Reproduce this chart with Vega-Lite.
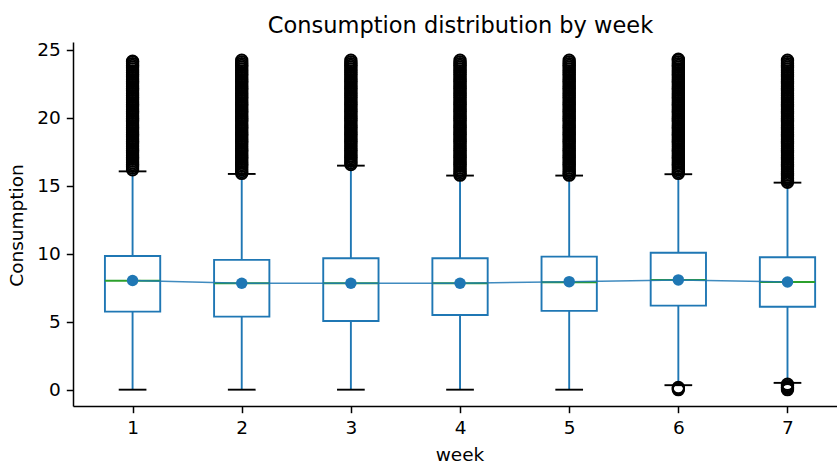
{
  "$schema": "https://vega.github.io/schema/vega-lite/v6.json",
  "width": 764,
  "height": 364,
  "autosize": {"type": "none"},
  "padding": {"left": 73, "top": 42, "right": 0, "bottom": 57},
  "background": "white",
  "title": {"text": "Consumption distribution by week", "font": "DejaVu Sans", "fontSize": 22.5, "fontWeight": "normal", "color": "black", "anchor": "middle", "frame": "group", "baseline": "alphabetic", "offset": 11, "dx": 5.5, "dy": 26},
  "datasets": {
    "box": [
      {"week": 1, "q1": 5.74, "med": 8.01, "q3": 9.83, "lo": 0, "hi": 16.05, "mean": 8.03},
      {"week": 2, "q1": 5.37, "med": 7.82, "q3": 9.54, "lo": 0, "hi": 15.86, "mean": 7.82},
      {"week": 3, "q1": 5.05, "med": 7.82, "q3": 9.66, "lo": 0, "hi": 16.47, "mean": 7.82},
      {"week": 4, "q1": 5.49, "med": 7.82, "q3": 9.66, "lo": 0, "hi": 15.74, "mean": 7.82},
      {"week": 5, "q1": 5.79, "med": 7.9, "q3": 9.78, "lo": 0, "hi": 15.74, "mean": 7.94},
      {"week": 6, "q1": 6.18, "med": 8.07, "q3": 10.07, "lo": 0.33, "hi": 15.84, "mean": 8.07},
      {"week": 7, "q1": 6.1, "med": 7.92, "q3": 9.74, "lo": 0.5, "hi": 15.22, "mean": 7.92}
    ],
    "out": [
      {"week":1,"v":16.16},{"week":1,"v":16.29},{"week":1,"v":16.42},{"week":1,"v":16.55},{"week":1,"v":16.68},{"week":1,"v":16.81},{"week":1,"v":16.94},{"week":1,"v":17.07},{"week":1,"v":17.2},{"week":1,"v":17.33},{"week":1,"v":17.46},{"week":1,"v":17.59},{"week":1,"v":17.72},{"week":1,"v":17.85},{"week":1,"v":17.98},{"week":1,"v":18.11},{"week":1,"v":18.24},{"week":1,"v":18.37},{"week":1,"v":18.5},{"week":1,"v":18.63},{"week":1,"v":18.76},{"week":1,"v":18.89},{"week":1,"v":19.02},{"week":1,"v":19.15},{"week":1,"v":19.28},{"week":1,"v":19.41},{"week":1,"v":19.54},{"week":1,"v":19.67},{"week":1,"v":19.8},{"week":1,"v":19.93},{"week":1,"v":20.06},{"week":1,"v":20.19},{"week":1,"v":20.32},{"week":1,"v":20.45},{"week":1,"v":20.58},{"week":1,"v":20.71},{"week":1,"v":20.84},{"week":1,"v":20.97},{"week":1,"v":21.1},{"week":1,"v":21.23},{"week":1,"v":21.36},{"week":1,"v":21.49},{"week":1,"v":21.62},{"week":1,"v":21.75},{"week":1,"v":21.88},{"week":1,"v":22.01},{"week":1,"v":22.14},{"week":1,"v":22.27},{"week":1,"v":22.4},{"week":1,"v":22.53},{"week":1,"v":22.66},{"week":1,"v":22.79},{"week":1,"v":22.92},{"week":1,"v":23.05},{"week":1,"v":23.18},{"week":1,"v":23.31},{"week":1,"v":23.44},{"week":1,"v":23.57},{"week":1,"v":23.7},{"week":1,"v":23.83},{"week":1,"v":23.96},{"week":1,"v":24.09},{"week":1,"v":24.15},
      {"week":2,"v":15.9},{"week":2,"v":16.03},{"week":2,"v":16.16},{"week":2,"v":16.29},{"week":2,"v":16.42},{"week":2,"v":16.55},{"week":2,"v":16.68},{"week":2,"v":16.81},{"week":2,"v":16.94},{"week":2,"v":17.07},{"week":2,"v":17.2},{"week":2,"v":17.33},{"week":2,"v":17.46},{"week":2,"v":17.59},{"week":2,"v":17.72},{"week":2,"v":17.85},{"week":2,"v":17.98},{"week":2,"v":18.11},{"week":2,"v":18.24},{"week":2,"v":18.37},{"week":2,"v":18.5},{"week":2,"v":18.63},{"week":2,"v":18.76},{"week":2,"v":18.89},{"week":2,"v":19.02},{"week":2,"v":19.15},{"week":2,"v":19.28},{"week":2,"v":19.41},{"week":2,"v":19.54},{"week":2,"v":19.67},{"week":2,"v":19.8},{"week":2,"v":19.93},{"week":2,"v":20.06},{"week":2,"v":20.19},{"week":2,"v":20.32},{"week":2,"v":20.45},{"week":2,"v":20.58},{"week":2,"v":20.71},{"week":2,"v":20.84},{"week":2,"v":20.97},{"week":2,"v":21.1},{"week":2,"v":21.23},{"week":2,"v":21.36},{"week":2,"v":21.49},{"week":2,"v":21.62},{"week":2,"v":21.75},{"week":2,"v":21.88},{"week":2,"v":22.01},{"week":2,"v":22.14},{"week":2,"v":22.27},{"week":2,"v":22.4},{"week":2,"v":22.53},{"week":2,"v":22.66},{"week":2,"v":22.79},{"week":2,"v":22.92},{"week":2,"v":23.05},{"week":2,"v":23.18},{"week":2,"v":23.31},{"week":2,"v":23.44},{"week":2,"v":23.57},{"week":2,"v":23.7},{"week":2,"v":23.83},{"week":2,"v":23.96},{"week":2,"v":24.09},{"week":2,"v":24.22},
      {"week":3,"v":16.55},{"week":3,"v":16.68},{"week":3,"v":16.81},{"week":3,"v":16.94},{"week":3,"v":17.07},{"week":3,"v":17.2},{"week":3,"v":17.33},{"week":3,"v":17.46},{"week":3,"v":17.59},{"week":3,"v":17.72},{"week":3,"v":17.85},{"week":3,"v":17.98},{"week":3,"v":18.11},{"week":3,"v":18.24},{"week":3,"v":18.37},{"week":3,"v":18.5},{"week":3,"v":18.63},{"week":3,"v":18.76},{"week":3,"v":18.89},{"week":3,"v":19.02},{"week":3,"v":19.15},{"week":3,"v":19.28},{"week":3,"v":19.41},{"week":3,"v":19.54},{"week":3,"v":19.67},{"week":3,"v":19.8},{"week":3,"v":19.93},{"week":3,"v":20.06},{"week":3,"v":20.19},{"week":3,"v":20.32},{"week":3,"v":20.45},{"week":3,"v":20.58},{"week":3,"v":20.71},{"week":3,"v":20.84},{"week":3,"v":20.97},{"week":3,"v":21.1},{"week":3,"v":21.23},{"week":3,"v":21.36},{"week":3,"v":21.49},{"week":3,"v":21.62},{"week":3,"v":21.75},{"week":3,"v":21.88},{"week":3,"v":22.01},{"week":3,"v":22.14},{"week":3,"v":22.27},{"week":3,"v":22.4},{"week":3,"v":22.53},{"week":3,"v":22.66},{"week":3,"v":22.79},{"week":3,"v":22.92},{"week":3,"v":23.05},{"week":3,"v":23.18},{"week":3,"v":23.31},{"week":3,"v":23.44},{"week":3,"v":23.57},{"week":3,"v":23.7},{"week":3,"v":23.83},{"week":3,"v":23.96},{"week":3,"v":24.09},{"week":3,"v":24.22},
      {"week":4,"v":15.77},{"week":4,"v":15.9},{"week":4,"v":16.03},{"week":4,"v":16.16},{"week":4,"v":16.29},{"week":4,"v":16.42},{"week":4,"v":16.55},{"week":4,"v":16.68},{"week":4,"v":16.81},{"week":4,"v":16.94},{"week":4,"v":17.07},{"week":4,"v":17.2},{"week":4,"v":17.33},{"week":4,"v":17.46},{"week":4,"v":17.59},{"week":4,"v":17.72},{"week":4,"v":17.85},{"week":4,"v":17.98},{"week":4,"v":18.11},{"week":4,"v":18.24},{"week":4,"v":18.37},{"week":4,"v":18.5},{"week":4,"v":18.63},{"week":4,"v":18.76},{"week":4,"v":18.89},{"week":4,"v":19.02},{"week":4,"v":19.15},{"week":4,"v":19.28},{"week":4,"v":19.41},{"week":4,"v":19.54},{"week":4,"v":19.67},{"week":4,"v":19.8},{"week":4,"v":19.93},{"week":4,"v":20.06},{"week":4,"v":20.19},{"week":4,"v":20.32},{"week":4,"v":20.45},{"week":4,"v":20.58},{"week":4,"v":20.71},{"week":4,"v":20.84},{"week":4,"v":20.97},{"week":4,"v":21.1},{"week":4,"v":21.23},{"week":4,"v":21.36},{"week":4,"v":21.49},{"week":4,"v":21.62},{"week":4,"v":21.75},{"week":4,"v":21.88},{"week":4,"v":22.01},{"week":4,"v":22.14},{"week":4,"v":22.27},{"week":4,"v":22.4},{"week":4,"v":22.53},{"week":4,"v":22.66},{"week":4,"v":22.79},{"week":4,"v":22.92},{"week":4,"v":23.05},{"week":4,"v":23.18},{"week":4,"v":23.31},{"week":4,"v":23.44},{"week":4,"v":23.57},{"week":4,"v":23.7},{"week":4,"v":23.83},{"week":4,"v":23.96},{"week":4,"v":24.09},{"week":4,"v":24.22},
      {"week":5,"v":15.77},{"week":5,"v":15.9},{"week":5,"v":16.03},{"week":5,"v":16.16},{"week":5,"v":16.29},{"week":5,"v":16.42},{"week":5,"v":16.55},{"week":5,"v":16.68},{"week":5,"v":16.81},{"week":5,"v":16.94},{"week":5,"v":17.07},{"week":5,"v":17.2},{"week":5,"v":17.33},{"week":5,"v":17.46},{"week":5,"v":17.59},{"week":5,"v":17.72},{"week":5,"v":17.85},{"week":5,"v":17.98},{"week":5,"v":18.11},{"week":5,"v":18.24},{"week":5,"v":18.37},{"week":5,"v":18.5},{"week":5,"v":18.63},{"week":5,"v":18.76},{"week":5,"v":18.89},{"week":5,"v":19.02},{"week":5,"v":19.15},{"week":5,"v":19.28},{"week":5,"v":19.41},{"week":5,"v":19.54},{"week":5,"v":19.67},{"week":5,"v":19.8},{"week":5,"v":19.93},{"week":5,"v":20.06},{"week":5,"v":20.19},{"week":5,"v":20.32},{"week":5,"v":20.45},{"week":5,"v":20.58},{"week":5,"v":20.71},{"week":5,"v":20.84},{"week":5,"v":20.97},{"week":5,"v":21.1},{"week":5,"v":21.23},{"week":5,"v":21.36},{"week":5,"v":21.49},{"week":5,"v":21.62},{"week":5,"v":21.75},{"week":5,"v":21.88},{"week":5,"v":22.01},{"week":5,"v":22.14},{"week":5,"v":22.27},{"week":5,"v":22.4},{"week":5,"v":22.53},{"week":5,"v":22.66},{"week":5,"v":22.79},{"week":5,"v":22.92},{"week":5,"v":23.05},{"week":5,"v":23.18},{"week":5,"v":23.31},{"week":5,"v":23.44},{"week":5,"v":23.57},{"week":5,"v":23.7},{"week":5,"v":23.83},{"week":5,"v":23.96},{"week":5,"v":24.09},{"week":5,"v":24.22},
      {"week":6,"v":15.9},{"week":6,"v":16.03},{"week":6,"v":16.16},{"week":6,"v":16.29},{"week":6,"v":16.42},{"week":6,"v":16.55},{"week":6,"v":16.68},{"week":6,"v":16.81},{"week":6,"v":16.94},{"week":6,"v":17.07},{"week":6,"v":17.2},{"week":6,"v":17.33},{"week":6,"v":17.46},{"week":6,"v":17.59},{"week":6,"v":17.72},{"week":6,"v":17.85},{"week":6,"v":17.98},{"week":6,"v":18.11},{"week":6,"v":18.24},{"week":6,"v":18.37},{"week":6,"v":18.5},{"week":6,"v":18.63},{"week":6,"v":18.76},{"week":6,"v":18.89},{"week":6,"v":19.02},{"week":6,"v":19.15},{"week":6,"v":19.28},{"week":6,"v":19.41},{"week":6,"v":19.54},{"week":6,"v":19.67},{"week":6,"v":19.8},{"week":6,"v":19.93},{"week":6,"v":20.06},{"week":6,"v":20.19},{"week":6,"v":20.32},{"week":6,"v":20.45},{"week":6,"v":20.58},{"week":6,"v":20.71},{"week":6,"v":20.84},{"week":6,"v":20.97},{"week":6,"v":21.1},{"week":6,"v":21.23},{"week":6,"v":21.36},{"week":6,"v":21.49},{"week":6,"v":21.62},{"week":6,"v":21.75},{"week":6,"v":21.88},{"week":6,"v":22.01},{"week":6,"v":22.14},{"week":6,"v":22.27},{"week":6,"v":22.4},{"week":6,"v":22.53},{"week":6,"v":22.66},{"week":6,"v":22.79},{"week":6,"v":22.92},{"week":6,"v":23.05},{"week":6,"v":23.18},{"week":6,"v":23.31},{"week":6,"v":23.44},{"week":6,"v":23.57},{"week":6,"v":23.7},{"week":6,"v":23.83},{"week":6,"v":23.96},{"week":6,"v":24.09},{"week":6,"v":24.22},{"week":6,"v":24.3},
      {"week":6,"v":0},{"week":6,"v":0.08},{"week":6,"v":0.16},
      {"week":7,"v":15.25},{"week":7,"v":15.38},{"week":7,"v":15.51},{"week":7,"v":15.64},{"week":7,"v":15.77},{"week":7,"v":15.9},{"week":7,"v":16.03},{"week":7,"v":16.16},{"week":7,"v":16.29},{"week":7,"v":16.42},{"week":7,"v":16.55},{"week":7,"v":16.68},{"week":7,"v":16.81},{"week":7,"v":16.94},{"week":7,"v":17.07},{"week":7,"v":17.2},{"week":7,"v":17.33},{"week":7,"v":17.46},{"week":7,"v":17.59},{"week":7,"v":17.72},{"week":7,"v":17.85},{"week":7,"v":17.98},{"week":7,"v":18.11},{"week":7,"v":18.24},{"week":7,"v":18.37},{"week":7,"v":18.5},{"week":7,"v":18.63},{"week":7,"v":18.76},{"week":7,"v":18.89},{"week":7,"v":19.02},{"week":7,"v":19.15},{"week":7,"v":19.28},{"week":7,"v":19.41},{"week":7,"v":19.54},{"week":7,"v":19.67},{"week":7,"v":19.8},{"week":7,"v":19.93},{"week":7,"v":20.06},{"week":7,"v":20.19},{"week":7,"v":20.32},{"week":7,"v":20.45},{"week":7,"v":20.58},{"week":7,"v":20.71},{"week":7,"v":20.84},{"week":7,"v":20.97},{"week":7,"v":21.1},{"week":7,"v":21.23},{"week":7,"v":21.36},{"week":7,"v":21.49},{"week":7,"v":21.62},{"week":7,"v":21.75},{"week":7,"v":21.88},{"week":7,"v":22.01},{"week":7,"v":22.14},{"week":7,"v":22.27},{"week":7,"v":22.4},{"week":7,"v":22.53},{"week":7,"v":22.66},{"week":7,"v":22.79},{"week":7,"v":22.92},{"week":7,"v":23.05},{"week":7,"v":23.18},{"week":7,"v":23.31},{"week":7,"v":23.44},{"week":7,"v":23.57},{"week":7,"v":23.7},{"week":7,"v":23.83},{"week":7,"v":23.96},{"week":7,"v":24.09},{"week":7,"v":24.22},
      {"week":7,"v":0},{"week":7,"v":0.1},{"week":7,"v":0.2},{"week":7,"v":0.3},{"week":7,"v":0.4}
    ]
  },
  "encoding": {
    "x": {"field": "week", "type": "quantitative", "title": "week",
      "scale": {"domain": [0.5, 7.4078], "nice": false, "zero": false},
      "axis": {"values": [1, 2, 3, 4, 5, 6, 7], "format": "d"}}
  },
  "layer": [
    {
      "data": {"name": "box"},
      "mark": {"type": "rule", "color": "#1f77b4", "strokeWidth": 1.9},
      "encoding": {
        "y": {"field": "q3", "type": "quantitative", "title": "Consumption", "scale": {"domain": [-1.2, 25.56], "nice": false, "zero": false}, "axis": {"values": [0, 5, 10, 15, 20, 25]}},
        "y2": {"field": "hi"}
      }
    },
    {
      "data": {"name": "box"},
      "mark": {"type": "rule", "color": "#1f77b4", "strokeWidth": 1.9},
      "encoding": {
        "y": {"field": "lo", "type": "quantitative", "title": "Consumption"},
        "y2": {"field": "q1"}
      }
    },
    {
      "data": {"name": "box"},
      "mark": {"type": "tick", "orient": "horizontal", "color": "black", "size": 27.7, "thickness": 1.9, "opacity": 1},
      "encoding": {"y": {"field": "hi", "type": "quantitative", "title": "Consumption"}}
    },
    {
      "data": {"name": "box"},
      "mark": {"type": "tick", "orient": "horizontal", "color": "black", "size": 27.7, "thickness": 1.9, "opacity": 1},
      "encoding": {"y": {"field": "lo", "type": "quantitative", "title": "Consumption"}}
    },
    {
      "data": {"name": "box"},
      "mark": {"type": "bar", "width": 55.3, "fill": "white", "fillOpacity": 0, "stroke": "#1f77b4", "strokeWidth": 1.9},
      "encoding": {
        "y": {"field": "q1", "type": "quantitative", "title": "Consumption"},
        "y2": {"field": "q3"}
      }
    },
    {
      "data": {"name": "box"},
      "mark": {"type": "tick", "orient": "horizontal", "color": "#2ca02c", "size": 55.3, "thickness": 1.9, "opacity": 1},
      "encoding": {"y": {"field": "med", "type": "quantitative", "title": "Consumption"}}
    },
    {
      "data": {"name": "out"},
      "mark": {"type": "point", "shape": "circle", "filled": false, "stroke": "black", "strokeWidth": 1.9, "size": 132, "opacity": 1},
      "encoding": {"y": {"field": "v", "type": "quantitative", "title": "Consumption"}}
    },
    {
      "data": {"name": "box"},
      "mark": {"type": "line", "color": "#1f77b4", "strokeWidth": 1.5, "opacity": 0.85},
      "encoding": {"y": {"field": "mean", "type": "quantitative", "title": "Consumption"}}
    },
    {
      "data": {"name": "box"},
      "mark": {"type": "point", "shape": "circle", "filled": true, "color": "#1f77b4", "size": 132, "opacity": 1},
      "encoding": {"y": {"field": "mean", "type": "quantitative", "title": "Consumption"}}
    },
    {
      "data": {"values": [{"k": 1}]},
      "mark": {"type": "rule", "color": "black", "strokeWidth": 1.5},
      "encoding": {
        "x": {"datum": 0.5},
        "x2": {"datum": 7.45},
        "y": {"datum": 25.56}
      }
    }
  ],
  "config": {
    "view": {"stroke": null},
    "axis": {"grid": false, "domainColor": "black", "domainWidth": 1.5, "tickColor": "black", "tickWidth": 1.5, "tickSize": 6.7,
      "labelFont": "DejaVu Sans", "labelFontSize": 18.5, "labelColor": "black", "labelPadding": 6,
      "titleFont": "DejaVu Sans", "titleFontSize": 18.5, "titleFontWeight": "normal", "titleColor": "black"},
    "axisX": {"titleX": 386.5, "titleY": 54, "titleBaseline": "alphabetic", "titleAlign": "center", "labelFlush": false},
    "axisY": {"titleX": -51, "titleY": 183, "titleBaseline": "alphabetic", "titleAlign": "center", "titleAngle": -90, "labelFlush": false}
  }
}
